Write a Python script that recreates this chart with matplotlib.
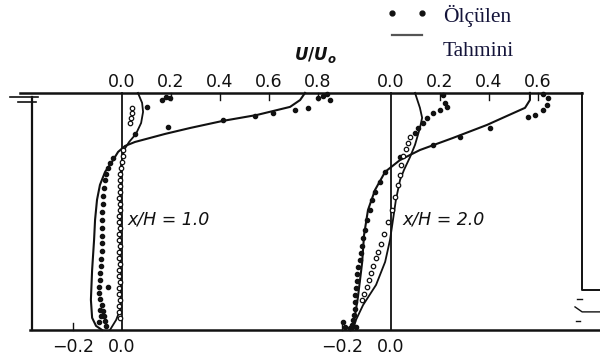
import matplotlib
matplotlib.use("Agg")
import matplotlib.pyplot as plt

plt.rcParams['mathtext.fontset'] = 'custom'
plt.rcParams['mathtext.it'] = 'DejaVu Sans:italic:bold'
plt.rcParams['mathtext.rm'] = 'DejaVu Sans:bold'

# offset of the second profile (x/H = 2.0) along the U/Uo axis
offset2 = 1.098

# profile x/H = 1.0 : predicted lines (U/Uo, y/H)
p1_line_u = [0.747, 0.727, 0.686, 0.551, 0.412, 0.278, 0.176, 0.053, 0.012, -0.016, -0.041, -0.069,
             -0.090, -0.102, -0.110, -0.114, -0.122, -0.127, -0.122, -0.106, -0.082]
p1_line_y = [1.0, 0.970, 0.941, 0.907, 0.882, 0.852, 0.827, 0.793, 0.776, 0.751, 0.709, 0.667,
             0.612, 0.549, 0.464, 0.380, 0.253, 0.127, 0.051, 0.017, 0.0]
p1_line2_u = [0.065, 0.082, 0.086, 0.078, 0.057, 0.029, 0.008, -0.004, -0.008, -0.008, -0.004,
              -0.008, -0.024, -0.049]
p1_line2_y = [1.0, 0.958, 0.920, 0.873, 0.827, 0.793, 0.759, 0.696, 0.549, 0.338, 0.169,
              0.084, 0.042, 0.0]

# profile x/H = 1.0 : measured, filled dots
p1_dot_u = [0.800, 0.849, 0.837, 0.820, 0.759, 0.706, 0.616, 0.543, 0.412, 0.188, 0.102, 0.163,
            0.180, 0.196, 0.053,
            -0.037, -0.049, -0.057, -0.065, -0.069, -0.073, -0.078, -0.078, -0.082, -0.082,
            -0.082, -0.082, -0.082, -0.082, -0.086, -0.086, -0.090, -0.090, -0.094, -0.094,
            -0.090, -0.082, -0.078, -0.073, -0.069, -0.065, -0.086, -0.094, -0.090, -0.057]
p1_dot_y = [0.979, 0.970, 0.996, 0.987, 0.937, 0.928, 0.916, 0.903, 0.886, 0.857, 0.941, 0.970,
            0.983, 0.979, 0.827,
            0.726, 0.705, 0.684, 0.658, 0.633, 0.599, 0.565, 0.532, 0.498, 0.464,
            0.430, 0.397, 0.367, 0.333, 0.300, 0.270, 0.241, 0.211, 0.181, 0.156,
            0.131, 0.105, 0.080, 0.059, 0.038, 0.017, 0.059, 0.034, 0.084, 0.181]

# profile x/H = 1.0 : measured, open circles
p1_circ_u = [0.041, 0.041, 0.037, 0.033,
             0.004, 0.004, 0.000, -0.004, -0.008, -0.008, -0.010, -0.010, -0.012, -0.010,
             -0.010, -0.012, -0.012, -0.010, -0.012, -0.012, -0.010, -0.012, -0.012, -0.010,
             -0.012, -0.012, -0.010, -0.012, -0.012, -0.010, -0.012, -0.012, -0.010]
p1_circ_y = [0.937, 0.916, 0.895, 0.873,
             0.759, 0.734, 0.709, 0.684, 0.658, 0.633, 0.608, 0.582, 0.557, 0.532,
             0.506, 0.481, 0.456, 0.430, 0.405, 0.380, 0.354, 0.329, 0.304, 0.278,
             0.253, 0.228, 0.203, 0.177, 0.152, 0.127, 0.101, 0.076, 0.051]

# profile x/H = 2.0 : predicted lines
p2_line_u = [0.567, 0.567, 0.547, 0.465, 0.392, 0.253, 0.118, 0.037, -0.024, -0.065, -0.094,
             -0.110, -0.118, -0.135, -0.151, -0.159]
p2_line_y = [1.0, 0.970, 0.937, 0.899, 0.865, 0.810, 0.759, 0.717, 0.667, 0.591, 0.506,
             0.401, 0.283, 0.139, 0.034, 0.0]
p2_line2_u = [0.098, 0.118, 0.127, 0.118, 0.098, 0.078, 0.053, 0.037, 0.020, 0.008, -0.004,
              -0.024, -0.061, -0.114, -0.143, -0.155]
p2_line2_y = [1.0, 0.937, 0.895, 0.852, 0.781, 0.730, 0.675, 0.633, 0.549, 0.464, 0.380,
              0.287, 0.190, 0.105, 0.042, 0.0]

# profile x/H = 2.0 : measured, filled dots
p2_dot_u = [0.212, 0.220, 0.229, 0.200, 0.171, 0.147, 0.131, 0.110, 0.098, 0.559, 0.588, 0.620,
            0.637, 0.641, 0.620, 0.404, 0.282, 0.171, 0.037,
            -0.024, -0.045, -0.065, -0.078, -0.086, -0.098, -0.106, -0.114, -0.118, -0.122,
            -0.127, -0.135, -0.139, -0.139, -0.143, -0.147, -0.147, -0.147, -0.151, -0.155,
            -0.159, -0.167, -0.143, -0.188, -0.196]
p2_dot_y = [0.992, 0.958, 0.941, 0.928, 0.916, 0.895, 0.873, 0.852, 0.831, 0.899, 0.907, 0.928,
            0.949, 0.979, 0.996, 0.852, 0.814, 0.781, 0.730,
            0.667, 0.624, 0.582, 0.549, 0.506, 0.464, 0.422, 0.388, 0.354, 0.325,
            0.295, 0.266, 0.236, 0.207, 0.177, 0.148, 0.118, 0.089, 0.063, 0.042,
            0.021, 0.008, 0.013, 0.013, 0.034]

# profile x/H = 2.0 : measured, open circles
p2_circ_u = [0.078, 0.069, 0.061, 0.049, 0.041, 0.037, 0.029, 0.016, 0.004, -0.012, -0.029,
             -0.041, -0.053, -0.061, -0.073, -0.082, -0.090, -0.098, -0.110, -0.118]
p2_circ_y = [0.814, 0.789, 0.764, 0.734, 0.696, 0.654, 0.612, 0.561, 0.506, 0.456, 0.405,
             0.363, 0.329, 0.304, 0.270, 0.241, 0.211, 0.181, 0.152, 0.127]

top_ticks1 = [0.0, 0.2, 0.4, 0.6, 0.8]
top_ticks2 = [0.0, 0.2, 0.4, 0.6]
bottom_ticks = [-0.2, 0.0]

# channel outline (same U/Uo, y/H units)
top_wall_x = [-0.416, 1.878]
left_wall_x = -0.367
right_wall_x = 1.878
step_y = 0.169
right_end_x = 1.951
bottom_wall_x = [-0.376, 1.951]

col = '#111111'
fig = plt.figure(figsize=(6, 3.6), dpi=100)
ax = fig.add_axes([0, 0, 1, 1])
ax.set_xlim(-0.498, 1.951)
ax.set_ylim(-0.127, 1.392)
ax.axis('off')

# walls
ax.plot(top_wall_x, [1.0, 1.0], color=col, lw=1.8)
ax.plot([left_wall_x, left_wall_x], [0.983, 0.0], color=col, lw=1.6)
ax.plot([right_wall_x, right_wall_x, right_end_x], [1.0, step_y, step_y], color=col, lw=1.4)
ax.plot(bottom_wall_x, [0.0, 0.0], color=col, lw=1.8)
# water surface marks
ax.plot([-0.457, -0.343], [0.983, 0.983], color=col, lw=1.2)
ax.plot([-0.424, -0.351], [0.962, 0.962], color=col, lw=1.2)
ax.plot([1.857, 1.878], [0.131, 0.131], color=col, lw=1.0)
ax.plot([1.849, 1.878, 1.951], [0.097, 0.076, 0.076], color=col, lw=1.0)
ax.plot([1.853, 1.869], [0.038, 0.038], color=col, lw=1.0)

# zero lines
for x0 in [0.0, offset2]:
    ax.plot([x0, x0], [1.0, 0.0], color=col, lw=1.3)

# tick marks and labels
for x0, ticks in [(0.0, top_ticks1), (offset2, top_ticks2)]:
    for t in ticks:
        if t > 0:
            ax.plot([x0 + t, x0 + t], [1.0, 0.972], color=col, lw=1.0)
        ax.text(x0 + t, 1.025, '%.1f' % t, ha='center', va='baseline', fontsize=12.5, color=col)
    for t in bottom_ticks:
        if t < 0:
            ax.plot([x0 + t, x0 + t], [0.0, 0.03], color=col, lw=1.0)
        ax.text(x0 + t, -0.093, ('%.1f' % t).replace('-', '\u2212'), ha='center', va='baseline',
                fontsize=12.5, color=col)

# profiles
ax.plot(p1_line_u, p1_line_y, color=col, lw=1.5)
ax.plot(p1_line2_u, p1_line2_y, color=col, lw=1.3)
ax.plot(p1_dot_u, p1_dot_y, 'o', color=col, ms=3)
ax.plot(p1_circ_u, p1_circ_y, 'o', mfc='white', mec=col, ms=3.2, mew=0.9)

ax.plot([u + offset2 for u in p2_line_u], p2_line_y, color=col, lw=1.5)
ax.plot([u + offset2 for u in p2_line2_u], p2_line2_y, color=col, lw=1.3)
ax.plot([u + offset2 for u in p2_dot_u], p2_dot_y, 'o', color=col, ms=3)
ax.plot([u + offset2 for u in p2_circ_u], p2_circ_y, 'o', mfc='white', mec=col, ms=3.2, mew=0.9)

# labels
ax.text(0.024, 0.443, 'x/H = 1.0', style='italic', fontsize=12.5, color=col, va='baseline')
ax.text(1.143, 0.443, 'x/H = 2.0', style='italic', fontsize=12.5, color=col, va='baseline')
ax.text(0.700, 1.139, r'$U/U_o$', fontsize=12, color=col, va='baseline')

# legend
ax.plot([1.102, 1.224], [1.338, 1.338], 'o', color=col, ms=3.5)
ax.plot([1.102, 1.224], [1.245, 1.245], color='#555555', lw=1.6)
ax.text(1.310, 1.300, 'Ölçülen', family='Liberation Serif', fontsize=15.5, color='#14143a', va='baseline')
ax.text(1.310, 1.156, 'Tahmini', family='Liberation Serif', fontsize=15.5, color='#14143a', va='baseline')

plt.savefig('out.png', dpi=100)
